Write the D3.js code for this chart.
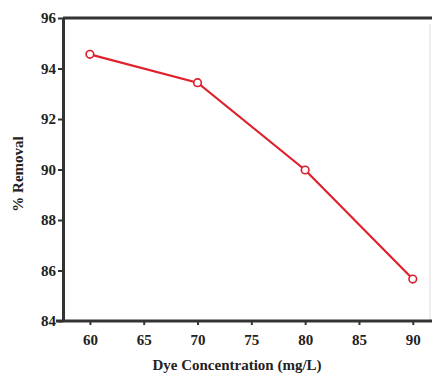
<!DOCTYPE html>
<html>
<head>
<meta charset="utf-8">
<script src="https://cdn.jsdelivr.net/npm/d3@7"></script>
<style>
  body { margin: 0; background: #fff; }
  text { font-family: "Liberation Serif", "Times New Roman", serif; font-weight: bold; fill: #222; }
</style>
</head>
<body>
<div id="chart"></div>
<script>
// data
var concentration = [60, 70, 80, 90];
var removal = [94.56, 93.44, 89.98, 85.66];
var xTicks = [60, 65, 70, 75, 80, 85, 90];
var yTicks = [84, 86, 88, 90, 92, 94, 96];

var svgWidth = 432;
var svgHeight = 376;

var svg = d3.select("#chart")
  .append("svg")
  .attr("width", svgWidth)
  .attr("height", svgHeight);

var x = d3.scaleLinear().domain([57.5, 91.6]).range([63, 430]);
var y = d3.scaleLinear().domain([84, 96]).range([321, 18]);

// faint right border
svg.append("line")
  .attr("x1", 430).attr("x2", 430)
  .attr("y1", 24).attr("y2", 321)
  .attr("stroke", "#ddd").attr("stroke-width", 1);

// top border
svg.append("line")
  .attr("x1", 63).attr("x2", 432)
  .attr("y1", 18).attr("y2", 18)
  .attr("stroke", "#333").attr("stroke-width", 3);

// x axis
var xAxis = svg.append("g")
  .attr("transform", "translate(0,321)")
  .call(d3.axisBottom(x).tickValues(xTicks).tickSize(4).tickSizeOuter(0));
xAxis.select(".domain").attr("stroke", "#333").attr("stroke-width", 3)
  .attr("d", "M56,0H432");
xAxis.selectAll(".tick line").attr("stroke", "#333").attr("stroke-width", 2);
xAxis.selectAll(".tick text").attr("dy", "1.15em").style("font-size", "15px");

// y axis
var yAxis = svg.append("g")
  .attr("transform", "translate(63,0)")
  .call(d3.axisLeft(y).tickValues(yTicks).tickSize(5).tickSizeOuter(0));
yAxis.select(".domain").attr("stroke", "#333").attr("stroke-width", 3);
yAxis.selectAll(".tick line").attr("stroke", "#333").attr("stroke-width", 2);
yAxis.selectAll(".tick text").attr("x", -7).style("font-size", "15px");

// line
var pts = concentration.map(function(c, i) { return [c, removal[i]]; });
svg.append("path")
  .datum(pts)
  .attr("fill", "none")
  .attr("stroke", "#e0202c")
  .attr("stroke-width", 2.2)
  .attr("d", d3.line().x(d => x(d[0])).y(d => y(d[1])));

svg.selectAll("circle")
  .data(pts)
  .enter()
  .append("circle")
  .attr("cx", d => x(d[0]))
  .attr("cy", d => y(d[1]))
  .attr("r", 3.8)
  .attr("fill", "#fff")
  .attr("stroke", "#d8202c")
  .attr("stroke-width", 1.6);

// axis titles
svg.append("text")
  .attr("x", 237)
  .attr("y", 370)
  .attr("text-anchor", "middle")
  .style("font-size", "15px")
  .text("Dye Concentration (mg/L)");

svg.append("text")
  .attr("transform", "translate(23,174) rotate(-90)")
  .attr("text-anchor", "middle")
  .style("font-size", "15px")
  .text("% Removal");
</script>
</body>
</html>
